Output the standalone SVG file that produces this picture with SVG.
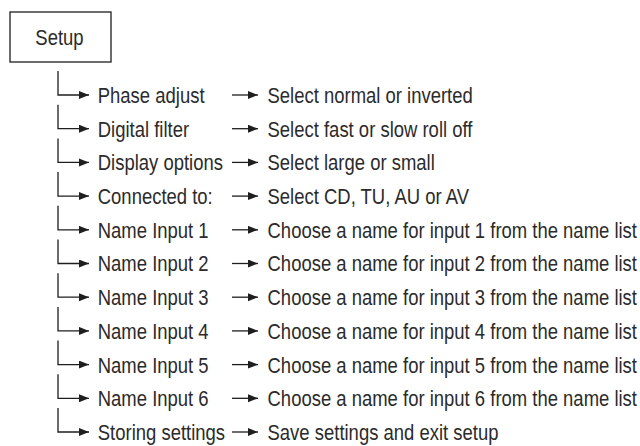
<svg xmlns="http://www.w3.org/2000/svg" width="640" height="446" viewBox="0 0 640 446">
<style>
.t{font-family:"Liberation Sans",Arial,sans-serif;font-size:22px;fill:#2b2b2b}
.c{fill:none;stroke:#1e1e1e;stroke-width:1.3;marker-end:url(#ah)}
.box{fill:#fff;stroke:#1e1e1e;stroke-width:1.3}
</style>
<defs>
<marker id="ah" markerUnits="userSpaceOnUse" markerWidth="11" markerHeight="9" refX="10" refY="4" orient="auto">
<path d="M0,0 L10,4 L0,8 Z" fill="#1e1e1e"/>
</marker>
</defs>
<rect width="640" height="446" fill="#fff"/>
<g id="setup">
<rect class="box" x="10" y="12" width="101" height="50"/>
<text class="t" x="70.8" y="45" text-anchor="middle" transform="scale(0.84 1)">Setup</text>
</g>
<g id="connectors">
<path class="c" d="M58,71 V95 H89"/>
<path class="c" d="M58,104.7 V128.7 H89"/>
<path class="c" d="M58,138.4 V162.4 H89"/>
<path class="c" d="M58,172.1 V196.1 H89"/>
<path class="c" d="M58,205.8 V229.8 H89"/>
<path class="c" d="M58,239.5 V263.5 H89"/>
<path class="c" d="M58,273.2 V297.2 H89"/>
<path class="c" d="M58,306.9 V330.9 H89"/>
<path class="c" d="M58,340.6 V364.6 H89"/>
<path class="c" d="M58,374.3 V398.3 H89"/>
<path class="c" d="M58,408 V432 H89"/>
<path class="c" d="M232,95 H258"/>
<path class="c" d="M232,128.7 H258"/>
<path class="c" d="M232,162.4 H258"/>
<path class="c" d="M232,196.1 H258"/>
<path class="c" d="M232,229.8 H258"/>
<path class="c" d="M232,263.5 H258"/>
<path class="c" d="M232,297.2 H258"/>
<path class="c" d="M232,330.9 H258"/>
<path class="c" d="M232,364.6 H258"/>
<path class="c" d="M232,398.3 H258"/>
<path class="c" d="M232,432 H258"/>
</g>
<g id="phase-adjust"><text class="t" x="116.4" y="103" transform="scale(0.84 1)">Phase adjust</text></g>
<g id="digital-filter"><text class="t" x="116.4" y="136.7" transform="scale(0.84 1)">Digital filter</text></g>
<g id="display-options"><text class="t" x="116.4" y="170.4" transform="scale(0.84 1)">Display options</text></g>
<g id="connected-to"><text class="t" x="116.4" y="204.1" transform="scale(0.84 1)">Connected to:</text></g>
<g id="name-input-1"><text class="t" x="116.4" y="237.8" transform="scale(0.84 1)">Name Input 1</text></g>
<g id="name-input-2"><text class="t" x="116.4" y="271.5" transform="scale(0.84 1)">Name Input 2</text></g>
<g id="name-input-3"><text class="t" x="116.4" y="305.2" transform="scale(0.84 1)">Name Input 3</text></g>
<g id="name-input-4"><text class="t" x="116.4" y="338.9" transform="scale(0.84 1)">Name Input 4</text></g>
<g id="name-input-5"><text class="t" x="116.4" y="372.6" transform="scale(0.84 1)">Name Input 5</text></g>
<g id="name-input-6"><text class="t" x="116.4" y="406.3" transform="scale(0.84 1)">Name Input 6</text></g>
<g id="storing-settings"><text class="t" x="116.4" y="440" transform="scale(0.84 1)">Storing settings</text></g>
<g id="sel-phase"><text class="t" x="318.5" y="103" transform="scale(0.84 1)">Select normal or inverted</text></g>
<g id="sel-filter"><text class="t" x="318.5" y="136.7" transform="scale(0.84 1)">Select fast or slow roll off</text></g>
<g id="sel-display"><text class="t" x="318.5" y="170.4" transform="scale(0.84 1)">Select large or small</text></g>
<g id="sel-connected"><text class="t" x="318.5" y="204.1" transform="scale(0.84 1)">Select CD, TU, AU or AV</text></g>
<g id="choose-1"><text class="t" x="318.5" y="237.8" transform="scale(0.84 1)">Choose a name for input 1 from the name list</text></g>
<g id="choose-2"><text class="t" x="318.5" y="271.5" transform="scale(0.84 1)">Choose a name for input 2 from the name list</text></g>
<g id="choose-3"><text class="t" x="318.5" y="305.2" transform="scale(0.84 1)">Choose a name for input 3 from the name list</text></g>
<g id="choose-4"><text class="t" x="318.5" y="338.9" transform="scale(0.84 1)">Choose a name for input 4 from the name list</text></g>
<g id="choose-5"><text class="t" x="318.5" y="372.6" transform="scale(0.84 1)">Choose a name for input 5 from the name list</text></g>
<g id="choose-6"><text class="t" x="318.5" y="406.3" transform="scale(0.84 1)">Choose a name for input 6 from the name list</text></g>
<g id="save"><text class="t" x="318.5" y="440" transform="scale(0.84 1)">Save settings and exit setup</text></g>
</svg>
